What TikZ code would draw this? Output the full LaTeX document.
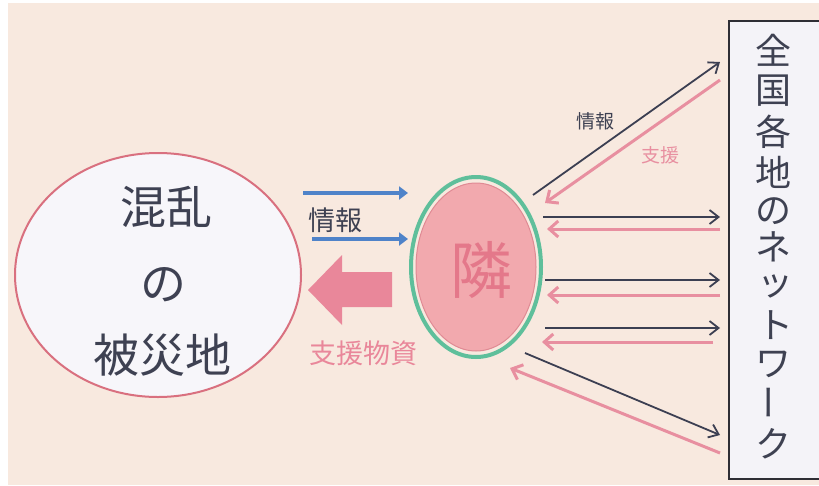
\documentclass[tikz,border=0pt]{standalone}
\usepackage{fontspec}
\newfontfamily\jp{Noto Sans CJK JP}
\usetikzlibrary{arrows.meta,shapes.geometric}
\definecolor{bg}{HTML}{F8E9DF}
\definecolor{darktext}{HTML}{3E4152}
\definecolor{ellborder}{HTML}{D9707F}
\definecolor{ellfill}{HTML}{F7F6FA}
\definecolor{ringgreen}{HTML}{5FBF9B}
\definecolor{nbfill}{HTML}{F2A9AE}
\definecolor{nbline}{HTML}{E08A94}
\definecolor{nbtext}{HTML}{E4788A}
\definecolor{infoblue}{HTML}{4F83C9}
\definecolor{bigpink}{HTML}{E9879A}
\definecolor{linepink}{HTML}{E88FA0}
\definecolor{linedark}{HTML}{3C3F52}
\definecolor{boxline}{HTML}{2E2E35}
\definecolor{boxfill}{HTML}{F4F3F8}
\tikzset{
  bigtxt/.style={font={\jp\fontsize{46}{50}\selectfont}, text=darktext, inner sep=0},
  vtxt/.style={font={\jp\fontsize{36}{40}\selectfont}, text=darktext, inner sep=0},
  midtxt/.style={font={\jp\fontsize{27}{30}\selectfont}, inner sep=0},
  smalltxt/.style={font={\jp\fontsize{19}{22}\selectfont}, inner sep=0},
  bluearr/.style={draw=infoblue, line width=4pt, -{Triangle[length=9pt,width=13pt]}},
  darkarr/.style={draw=linedark, line width=1.8pt, -{Straight Barb[length=9pt,width=14pt,line width=1.8pt]}},
  pinkarr/.style={draw=linepink, line width=3pt, -{Straight Barb[length=9pt,width=16pt,line width=3pt]}},
}
\begin{document}
\begin{tikzpicture}[x=1pt,y=-1pt]
\useasboundingbox (0,0) rectangle (819,485);
\fill[white] (0,0) rectangle (819,485);
\fill[bg] (8,3) rectangle (819,485);

% left ellipse
\node[ellipse, draw=ellborder, fill=ellfill, line width=2pt, minimum width=286pt, minimum height=244pt, inner sep=0] (disaster) at (158,275) {};
\node[bigtxt] (t1) at (166,207) {混乱};
\node[bigtxt] (t2) at (163,285) {の};
\node[bigtxt] (t3) at (162,355) {被災地};

% neighbour
\node[ellipse, draw=ringgreen, line width=4pt, minimum width=130pt, minimum height=180pt, inner sep=0] (ring) at (476,267) {};
\node[ellipse, draw=nbline, fill=nbfill, line width=1pt, minimum width=120pt, minimum height=168pt, inner sep=0] (nb) at (476,267) {};
\node[font={\jp\fontsize{62}{66}\selectfont}, text=nbtext, inner sep=0] (nbt) at (481,270) {隣};

% blue info arrows
\coordinate (b1s) at (303,193);
\coordinate (b1e) at (408,193);
\coordinate (b2s) at (312,239);
\coordinate (b2e) at (408,239);
\draw[bluearr] (b1s) -- (b1e);
\draw[bluearr] (b2s) -- (b2e);
\node[midtxt, text=darktext] (info) at (335,220) {情報};

% big pink arrow
\fill[bigpink] (308,290) -- (342,255) -- (342,272) -- (392,272) -- (392,307) -- (342,307) -- (342,325) -- cycle;
\node[midtxt, text=bigpink] (supplies) at (363,353) {支援物資};

% network box
\node[draw=boxline, fill=boxfill, line width=2pt, minimum width=112pt, minimum height=458pt, anchor=north west, inner sep=0] (net) at (728,20) {};
\node[vtxt] (v0) at (773,50) {全};
\node[vtxt] (v1) at (773,91) {国};
\node[vtxt] (v2) at (773,132) {各};
\node[vtxt] (v3) at (773,172) {地};
\node[vtxt] (v4) at (773,211) {の};
\node[vtxt] (v5) at (773,247) {ネ};
\node[vtxt] (v6) at (775,286) {ッ};
\node[vtxt] (v7) at (775,325) {ト};
\node[vtxt] (v8) at (773,364) {ワ};
\node[vtxt, rotate=90] (v9) at (775,402) {ー};
\node[vtxt] (v10) at (773,444) {ク};

% right arrows
\coordinate (d1s) at (533,195); \coordinate (d1e) at (720,62);
\coordinate (p1s) at (720,80);  \coordinate (p1e) at (545,203);
\coordinate (d2s) at (543,217); \coordinate (d2e) at (720,217);
\coordinate (p2s) at (720,229); \coordinate (p2e) at (547,229);
\coordinate (d3s) at (545,280); \coordinate (d3e) at (720,280);
\coordinate (p3s) at (720,295); \coordinate (p3e) at (547,295);
\coordinate (d4s) at (545,328); \coordinate (d4e) at (720,328);
\coordinate (p4s) at (713,342); \coordinate (p4e) at (542,342);
\coordinate (d5s) at (525,353); \coordinate (d5e) at (720,435);
\coordinate (p5s) at (720,453); \coordinate (p5e) at (510,368);
\foreach \k in {1,...,5}{
  \draw[darkarr] (d\k s) -- (d\k e);
  \draw[pinkarr] (p\k s) -- (p\k e);
}
\node[smalltxt, text=darktext] (info2) at (595,121) {情報};
\node[smalltxt, text=linepink] (aid2) at (660,155) {支援};
\end{tikzpicture}
\end{document}
